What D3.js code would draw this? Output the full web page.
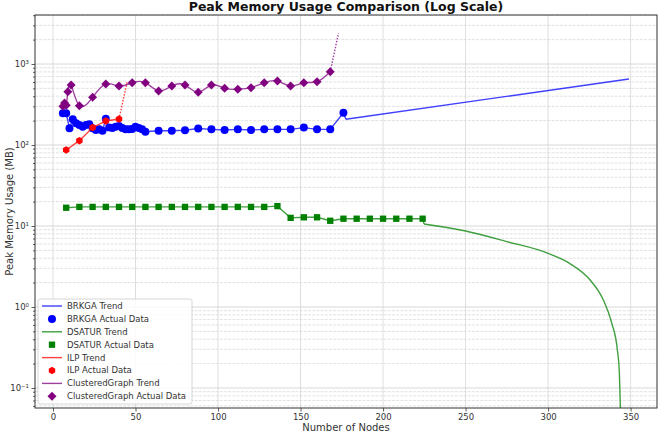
<!DOCTYPE html>
<html><head><meta charset="utf-8">
<script src="https://cdn.jsdelivr.net/npm/d3@7"></script>
<style>body{margin:0;background:#fff;} svg{display:block;font-family:"DejaVu Sans",sans-serif;}</style>
</head><body><svg id="c" width="658" height="434"></svg>
<script>
// ---- data ----
const brkgaNodes = [6,8,10,12,14,16,18,20,22,24,26,28,30,32,34,36,38,40,42,44,46,48,50,52,54,56,64,72,80,88,96,104,112,120,128,136,144,152,160,168,176];
const brkgaMem   = [246,246,161,208,185,177,168,177,180,161,153,156,150,211,165,162,168,172,162,156,156,158,168,162,156,146,150,150,152,160,156,153,156,153,156,156,156,164,156,156,250];
const brkgaTrendNodes = [177.5,349];
const brkgaTrendMem   = [208,653];

const dsaturNodes = [8,16,24,32,40,48,56,64,72,80,88,96,104,112,120,128,136,144,152,160,168,176,184,192,200,208,216,224];
const dsaturMem   = [16.8,17.2,17.2,17.2,17.2,17.2,17.2,17.2,17.2,17.2,17.2,17.2,17.2,17.2,17.2,17.2,17.6,12.6,12.8,12.8,11.6,12.3,12.3,12.3,12.3,12.3,12.3,12.3];
const dsaturTrendNodes = [224.8,250,275,300,313,325.5,333.5,338.6,342,343.2,344.2];
const dsaturTrendMem   = [10.6,8.67,6.41,4.6,3.46,2.15,1.22,0.63,0.294,0.152,0.03];

const ilpNodes = [8,16,24,32,40];
const ilpMem   = [86.8,113,164,198,209];
const ilpTrendNodes = [40,45];
const ilpTrendMem   = [209,610];

const clusterNodes = [6,7,8,9,11,16,24,32,40,48,56,64,72,80,88,96,104,112,120,128,136,144,152,160,168];
const clusterMem   = [300,330,310,455,550,306,388,567,535,587,587,464,535,550,447,550,501,487,510,587,617,535,587,604,803];
const clusterTrendNodes = [168,173];
const clusterTrendMem   = [803,2400];

const xTicks = [0,50,100,150,200,250,300,350];
const yTicks = [0.1,1,10,100,1000];
const yTickLabels = ["10\u207B\u00B9","10\u2070","10\u00B9","10\u00B2","10\u00B3"];

const legendLabels = ["BRKGA Trend","BRKGA Actual Data","DSATUR Trend","DSATUR Actual Data","ILP Trend","ILP Actual Data","ClusteredGraph Trend","ClusteredGraph Actual Data"];

// ---- layout ----
const L=35, R=657, T=15, B=408;
const svg = d3.select("#c");
const x = d3.scaleLinear().domain([-10.9,366]).range([L,R]);
const y = d3.scaleLog().domain([0.0566,4027]).range([B,T]);

svg.append("defs").append("clipPath").attr("id","clip")
  .append("rect").attr("x",L).attr("y",T).attr("width",R-L).attr("height",B-T);

// grid
const minor=[];
for(let k=-2;k<=3;k++) for(let m=2;m<=9;m++){const v=m*Math.pow(10,k); if(v>0.0566&&v<4027) minor.push(v);}
const g = svg.append("g");
g.selectAll(".hg").data(minor).join("line")
  .attr("x1",L).attr("x2",R).attr("y1",d=>y(d)).attr("y2",d=>y(d))
  .attr("stroke","#c4c4c4").attr("stroke-width",0.8).attr("stroke-dasharray","3,1.2").attr("opacity",0.6);
g.selectAll(".hM").data(yTicks).join("line")
  .attr("x1",L).attr("x2",R).attr("y1",d=>y(d)).attr("y2",d=>y(d))
  .attr("stroke","#c4c4c4").attr("stroke-width",0.8).attr("opacity",0.8);
g.selectAll(".vg").data(xTicks).join("line")
  .attr("y1",T).attr("y2",B).attr("x1",d=>x(d)).attr("x2",d=>x(d))
  .attr("stroke","#d6d6d6").attr("stroke-width",0.8);

// axes
const xAxis = svg.append("g").attr("transform",`translate(0,${B})`)
  .call(d3.axisBottom(x).tickValues(xTicks).tickSize(3.5).tickPadding(2.5));
const yAxis = svg.append("g").attr("transform",`translate(${L},0)`)
  .call(d3.axisLeft(y).tickValues(yTicks).tickFormat((d,i)=>yTickLabels[i]).tickSize(3.5).tickPadding(2.5));
svg.append("g").attr("transform",`translate(${L},0)`)
  .call(d3.axisLeft(y).tickValues(minor).tickFormat("").tickSize(2))
  .call(s=>s.select(".domain").remove());
[xAxis,yAxis].forEach(a=>{a.selectAll("text").attr("font-size",8.5).attr("fill","#333").style("font-family","DejaVu Sans");});
svg.selectAll(".tick line").attr("stroke","#333").attr("stroke-width",0.8);
svg.selectAll(".domain").remove();
svg.append("rect").attr("x",L).attr("y",T).attr("width",R-L).attr("height",B-T)
  .attr("fill","none").attr("stroke","#333").attr("stroke-width",1);

// series
const plot = svg.append("g").attr("clip-path","url(#clip)");
const zip=(a,b)=>a.map((v,i)=>[v,b[i]]);
const line = d3.line().x(d=>x(d[0])).y(d=>y(d[1]));
const hex = {draw(ctx,size){const r=Math.sqrt(size/2.598);for(let i=0;i<6;i++){const a=Math.PI/3*i+Math.PI/6;const px=r*Math.cos(a),py=r*Math.sin(a);i?ctx.lineTo(px,py):ctx.moveTo(px,py);}ctx.closePath();}};

const series = [
 {name:"BRKGA", color:"blue", nodes:brkgaNodes, mem:brkgaMem, tn:brkgaTrendNodes, tm:brkgaTrendMem, curve:d3.curveLinear, dash:null, sym:d3.symbolCircle, size:50, rot:0},
 {name:"DSATUR", color:"green", nodes:dsaturNodes, mem:dsaturMem, tn:dsaturTrendNodes, tm:dsaturTrendMem, curve:d3.curveLinear, dash:null, sym:d3.symbolSquare, size:40, rot:0, tcurve:d3.curveMonotoneX},
 {name:"ILP", color:"red", nodes:ilpNodes, mem:ilpMem, tn:ilpTrendNodes, tm:ilpTrendMem, curve:d3.curveLinear, dash:"1.5,1.5", sym:hex, size:36, rot:0},
 {name:"ClusteredGraph", color:"purple", nodes:clusterNodes, mem:clusterMem, tn:clusterTrendNodes, tm:clusterTrendMem, curve:d3.curveNatural, dash:"1.5,1.5", sym:d3.symbolSquare, size:40, rot:45}
];
series.forEach(s=>{
  const pts = zip(s.nodes,s.mem);
  const tpts = zip(s.tn,s.tm);
  const main = s.dash ? pts : pts.concat([tpts[0]]);
  plot.append("path").attr("d",line.curve(s.curve)(main)).attr("fill","none")
    .attr("stroke",s.color).attr("stroke-opacity",0.75).attr("stroke-width",1.4);
  plot.append("path").attr("d",line.curve(s.tcurve||d3.curveLinear)(tpts)).attr("fill","none")
    .attr("stroke",s.color).attr("stroke-opacity",0.75).attr("stroke-width",1.4)
    .attr("stroke-dasharray",s.dash);
  plot.selectAll(null).data(pts).join("path")
    .attr("d",d3.symbol().type(s.sym).size(s.size))
    .attr("transform",d=>`translate(${x(d[0])},${y(d[1])}) rotate(${s.rot})`)
    .attr("fill",s.color);
});

// legend
const lg = svg.append("g");
lg.append("rect").attr("x",38).attr("y",299).attr("width",154).attr("height",105).attr("rx",2)
  .attr("fill","#fff").attr("fill-opacity",0.85).attr("stroke","#cccccc").attr("stroke-width",0.8);
legendLabels.forEach((lab,i)=>{
  const s = series[Math.floor(i/2)];
  const yy = 306 + i*12.9;
  if(i%2===0){
    lg.append("line").attr("x1",42).attr("x2",62).attr("y1",yy).attr("y2",yy)
      .attr("stroke",s.color).attr("stroke-opacity",0.75).attr("stroke-width",1.4);
  } else {
    lg.append("path").attr("d",d3.symbol().type(s.sym).size(s.size)).attr("fill",s.color)
      .attr("transform",`translate(52,${yy}) rotate(${s.rot})`);
  }
  lg.append("text").attr("x",67).attr("y",yy).attr("dy","0.35em").attr("font-size",8.5).attr("fill","#333").text(lab);
});

// titles
svg.append("text").attr("x",(L+R)/2).attr("y",11).attr("text-anchor","middle")
  .attr("font-size",12.5).attr("font-weight","bold").attr("fill","#111").text("Peak Memory Usage Comparison (Log Scale)");
svg.append("text").attr("x",(L+R)/2).attr("y",431).attr("text-anchor","middle")
  .attr("font-size",10).attr("fill","#333").text("Number of Nodes");
svg.append("text").attr("transform",`translate(9,${(T+B)/2}) rotate(-90)`).attr("text-anchor","middle")
  .attr("dy","0.35em").attr("font-size",10).attr("fill","#333").text("Peak Memory Usage (MB)");
</script></body></html>
